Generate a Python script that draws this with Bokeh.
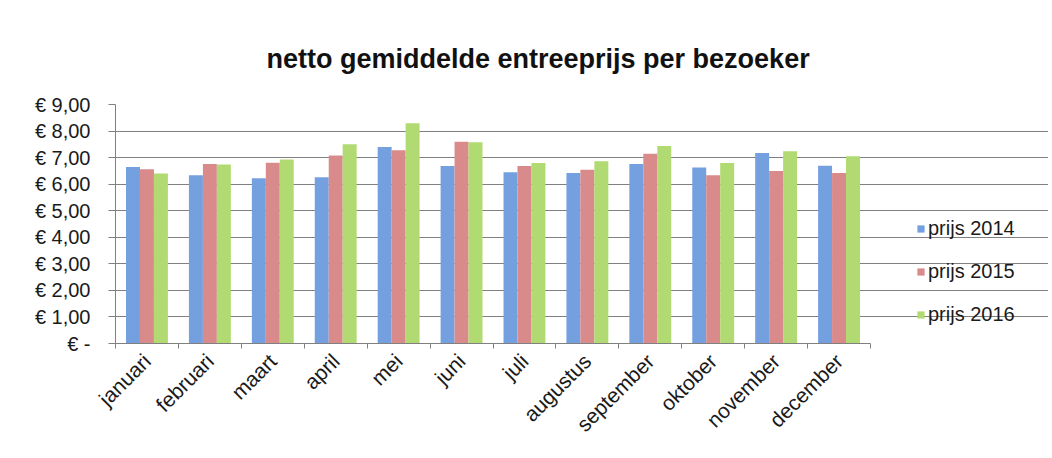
import numpy as np
from bokeh.plotting import figure
from bokeh.models import ColumnDataSource, FixedTicker, Range1d, Legend, LegendItem
from bokeh.transform import dodge
from bokeh.embed import file_html
from bokeh.resources import INLINE

months = ["januari", "februari", "maart", "april", "mei", "juni", "juli",
          "augustus", "september", "oktober", "november", "december"]
p2014 = [6.65, 6.34, 6.22, 6.26, 7.40, 6.68, 6.45, 6.42, 6.76, 6.63, 7.17, 6.69]
p2015 = [6.56, 6.76, 6.81, 7.08, 7.28, 7.60, 6.68, 6.54, 7.15, 6.34, 6.50, 6.42]
p2016 = [6.40, 6.74, 6.93, 7.50, 8.29, 7.58, 6.80, 6.86, 7.44, 6.80, 7.24, 7.05]
series_names = ["prijs 2014", "prijs 2015", "prijs 2016"]
y_ticks = [0, 1, 2, 3, 4, 5, 6, 7, 8, 9]
y_labels = ["€ -", "€ 1,00", "€ 2,00", "€ 3,00", "€ 4,00", "€ 5,00",
            "€ 6,00", "€ 7,00", "€ 8,00", "€ 9,00"]

colors = ["#74a0e0", "#d98b8b", "#b2da72"]
FONT = "Liberation Sans"

W, H = 1048, 454
FL, FT, FR, FB = 115, 104, 870, 343   # desired frame edges (px)
n = len(months)
cat_px = (FR - FL) / n
x_end = (W - FL) / cat_px            # frame extends to the right to hold legend

centers = [i + 0.5 for i in range(n)]
bounds = list(range(n + 1))
src = ColumnDataSource(dict(x=centers, a=p2014, b=p2015, c=p2016))

p = figure(width=W, height=H, output_backend="svg", toolbar_location=None,
           x_range=Range1d(0, x_end), y_range=Range1d(0, 9),
           min_border_left=FL, min_border_right=0, min_border_top=FT,
           min_border_bottom=H - FB)
p.background_fill_color = "white"
p.border_fill_color = "white"
p.outline_line_color = None

bw = 0.222
r1 = p.vbar(x=dodge("x", -bw, range=p.x_range), top="a", width=bw, source=src,
            fill_color=colors[0], line_color=None)
r2 = p.vbar(x=dodge("x", 0, range=p.x_range), top="b", width=bw, source=src,
            fill_color=colors[1], line_color=None)
r3 = p.vbar(x=dodge("x", bw, range=p.x_range), top="c", width=bw, source=src,
            fill_color=colors[2], line_color=None)

# title
p.title.text = "netto gemiddelde entreeprijs per bezoeker"
p.title.text_font = FONT
p.title.text_font_size = "27px"
p.title.text_font_style = "bold"
p.title.text_color = "#111111"
p.title.align = "left"
p.title.offset = 151
p.title.standoff = 62

# axes
xa = p.xaxis[0]
xa.bounds = (0, n)
xa.ticker = FixedTicker(ticks=centers, minor_ticks=bounds)
xa.major_label_overrides = {c: m for c, m in zip(centers, months)}
xa.major_label_orientation = np.pi / 4
xa.major_tick_out = 0
xa.major_tick_in = 0
xa.minor_tick_out = 5
xa.minor_tick_in = 0
xa.minor_tick_line_color = "#808080"
xa.axis_line_color = "#808080"
xa.major_label_text_font = FONT
xa.major_label_text_font_size = "21px"
xa.major_label_text_color = "#1a1a1a"
xa.major_label_standoff = 9

ya = p.yaxis[0]
ya.ticker = FixedTicker(ticks=y_ticks, minor_ticks=[])
ya.major_label_overrides = {t: l for t, l in zip(y_ticks, y_labels)}
ya.major_tick_out = 7
ya.major_tick_in = 0
ya.major_tick_line_color = "#808080"
ya.minor_tick_line_color = None
ya.axis_line_color = "#808080"
ya.major_label_text_font = FONT
ya.major_label_text_font_size = "20px"
ya.major_label_text_color = "#1a1a1a"
ya.major_label_standoff = 18

p.xgrid.grid_line_color = None
p.ygrid.grid_line_color = "#808080"
p.ygrid.ticker = FixedTicker(ticks=y_ticks)
p.ygrid.bounds = (0, n)

legend = Legend(items=[LegendItem(label=series_names[0], renderers=[r1]),
                       LegendItem(label=series_names[1], renderers=[r2]),
                       LegendItem(label=series_names[2], renderers=[r3])],
                location=(920 - FL - 4, 17))
legend.label_text_font = FONT
legend.label_text_font_size = "20px"
legend.label_text_color = "#1a1a1a"
legend.glyph_width = 9
legend.glyph_height = 9
legend.label_standoff = 3
legend.spacing = 20
legend.label_height = 21
legend.padding = 10
legend.border_line_color = None
legend.background_fill_alpha = 0
p.add_layout(legend, "center")

open("out.html", "w").write(file_html(p, INLINE))
